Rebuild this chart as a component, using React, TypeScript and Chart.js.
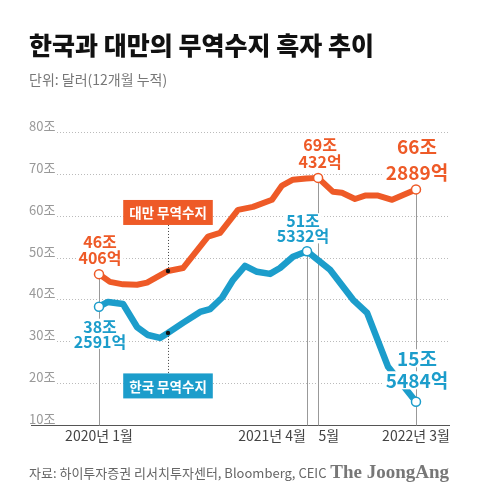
import React, { useEffect, useRef } from "react";
import { Chart, registerables } from "chart.js";

Chart.register(...registerables);

// Months since 2020-01 (as placed on the original graphic) and values in 조 달러
const taiwanMonths = [0, 0.9, 1.97, 3.12, 3.94, 5.66, 6.89, 8.94, 9.93, 11.4, 12.63, 14.19, 15.01, 15.91, 16.98, 17.97, 19.2, 19.93, 21.0, 21.82, 22.89, 24.04, 26];
const taiwanValues = [46.04, 44.2, 43.6, 43.5, 44.0, 46.8, 47.5, 55.0, 55.9, 61.4, 62.1, 63.8, 67.2, 68.6, 68.9, 69.04, 65.7, 65.5, 64.0, 64.8, 64.8, 63.8, 66.29];
const koreaMonths = [0, 0.74, 1.97, 3.12, 4.02, 5.0, 5.66, 6.89, 8.29, 9.11, 10.09, 11.0, 11.98, 12.96, 14.03, 14.85, 15.91, 17.06, 18.95, 20.84, 21.99, 23.71, 26];
const koreaValues = [38.26, 39.4, 38.9, 33.4, 31.5, 30.8, 32.0, 34.4, 37.0, 37.7, 40.4, 44.7, 48.0, 46.6, 46.1, 47.5, 50.2, 51.53, 47.1, 39.9, 36.8, 23.9, 15.55];

const yTicks = [10, 20, 30, 40, 50, 60, 70, 80];
const markerMonth = 5.66;

const taiwanCallouts = [
  { idx: 0, lines: ["46조", "406억"] },
  { idx: 15, lines: ["69조", "432억"] },
  { idx: 22, lines: ["66조", "2889억"] },
];
const koreaCallouts = [
  { idx: 0, lines: ["38조", "2591억"] },
  { idx: 17, lines: ["51조", "5332억"] },
  { idx: 22, lines: ["15조", "5484억"] },
];
const xLabels = [
  { series: "taiwan", idx: 0, text: "2020년 1월", align: "center" },
  { series: "korea", idx: 17, text: "2021년 4월", align: "right" },
  { series: "taiwan", idx: 15, text: "5월", align: "left" },
  { series: "taiwan", idx: 22, text: "2022년 3월", align: "center" },
];

const TITLE = "한국과 대만의 무역수지 흑자 추이";
const SUBTITLE = "단위: 달러(12개월 누적)";
const SOURCE = "자료: 하이투자증권 리서치투자센터, Bloomberg, CEIC";
const BRAND = "The JoongAng";
const TAIWAN_NAME = "대만 무역수지";
const KOREA_NAME = "한국 무역수지";

const ORANGE = "#EE5A27";
const BLUE = "#1C9DCB";
const KR = "'Noto Sans CJK KR', 'Noto Sans', sans-serif";

export default function App() {
  const ref = useRef<HTMLCanvasElement | null>(null);

  useEffect(() => {
    document.body.style.margin = "0";
    const canvas = ref.current!;
    const tIdxMarker = taiwanMonths.indexOf(markerMonth);
    const kIdxMarker = koreaMonths.indexOf(markerMonth);
    const tCircle = taiwanCallouts.map((c) => c.idx);
    const kCircle = koreaCallouts.map((c) => c.idx);

    const text = (ctx: CanvasRenderingContext2D, s: string, x: number, y: number, font: string, color: string, align: CanvasTextAlign = "left", knock = false) => {
      ctx.save();
      ctx.font = font;
      ctx.textAlign = align;
      ctx.textBaseline = "middle";
      if (knock) {
        const w = ctx.measureText(s).width;
        const fs = parseFloat(font.match(/(\d+(\.\d+)?)px/)![1]);
        let lx = x;
        if (align === "center") lx = x - w / 2;
        else if (align === "right") lx = x - w;
        ctx.fillStyle = "#fff";
        ctx.fillRect(lx - 2, y - fs * 0.5, w + 4, fs * 0.95);
      }
      ctx.fillStyle = color;
      ctx.fillText(s, x, y);
      ctx.restore();
    };

    const plugin = {
      id: "infographic",
      beforeDraw(chart: any) {
        const ctx = chart.ctx as CanvasRenderingContext2D;
        ctx.save();
        ctx.fillStyle = "#fff";
        ctx.fillRect(0, 0, chart.width, chart.height);
        ctx.restore();
        text(ctx, TITLE, 29, 45, `900 25px ${KR}`, "#111");
        text(ctx, SUBTITLE, 29, 80, `400 14px ${KR}`, "#777");
        text(ctx, SOURCE, 29, 473, `400 13px ${KR}`, "#666");
        text(ctx, BRAND, 449, 473, `bold 19px 'Liberation Serif', 'DejaVu Serif', serif`, "#777", "right");
      },
      beforeDatasetsDraw(chart: any) {
        const ctx = chart.ctx as CanvasRenderingContext2D;
        const ys = chart.scales.y;
        const area = chart.chartArea;
        yTicks.forEach((v) => {
          const py = Math.round(ys.getPixelForValue(v)) + 0.5;
          ctx.save();
          if (v === yTicks[0]) {
            ctx.strokeStyle = "#555";
            ctx.lineWidth = 1;
            ctx.beginPath();
            ctx.moveTo(area.left, py);
            ctx.lineTo(area.right, py);
            ctx.stroke();
          } else {
            ctx.strokeStyle = "#bbb";
            ctx.lineWidth = 1;
            ctx.setLineDash([1, 2]);
            ctx.beginPath();
            ctx.moveTo(57, py);
            ctx.lineTo(area.right, py);
            ctx.stroke();
          }
          ctx.restore();
          text(ctx, `${v}조`, 29, py - 6, `400 13px ${KR}`, "#999");
        });
        const tMeta = chart.getDatasetMeta(0).data;
        const kMeta = chart.getDatasetMeta(1).data;
        const axisY = Math.round(ys.getPixelForValue(yTicks[0])) + 0.5;
        const guides = [tMeta[tCircle[0]], tMeta[tCircle[1]], tMeta[tCircle[2]], kMeta[kCircle[1]]];
        ctx.save();
        ctx.strokeStyle = "#999";
        ctx.lineWidth = 1;
        guides.forEach((p: any) => {
          const x = Math.round(p.x) + 0.5;
          ctx.beginPath();
          ctx.moveTo(x, p.y);
          ctx.lineTo(x, axisY);
          ctx.stroke();
        });
        ctx.restore();
      },
      afterDatasetsDraw(chart: any) {
        const ctx = chart.ctx as CanvasRenderingContext2D;
        const tMeta = chart.getDatasetMeta(0).data;
        const kMeta = chart.getDatasetMeta(1).data;
        const ys = chart.scales.y;
        const axisY = ys.getPixelForValue(yTicks[0]);

        const tOff = [
          [-32, -16],
          [-33, -16],
          [-43, -17],
        ];
        taiwanCallouts.forEach((c, i) => {
          const p = tMeta[c.idx];
          const big = i === 2;
          const font = big ? `bold 19px ${KR}` : `bold 16px ${KR}`;
          const x = p.x + (i === 1 ? 2 : 1);
          text(ctx, c.lines[0], x, p.y + tOff[i][0], font, ORANGE, "center", true);
          text(ctx, c.lines[1], x, p.y + tOff[i][1], font, ORANGE, "center", true);
        });
        const kOff = [
          [20, 35],
          [-30, -15],
          [-43, -21],
        ];
        koreaCallouts.forEach((c, i) => {
          const p = kMeta[c.idx];
          const big = i === 2;
          const font = big ? `bold 19px ${KR}` : `bold 16px ${KR}`;
          const x = p.x + (i === 1 ? -4 : 1);
          text(ctx, c.lines[0], x, p.y + kOff[i][0], font, BLUE, "center", true);
          text(ctx, c.lines[1], x, p.y + kOff[i][1], font, BLUE, "center", true);
        });

        const boxes = [
          { p: tMeta[tIdxMarker], name: TAIWAN_NAME, color: ORANGE, dy: -58.5 },
          { p: kMeta[kIdxMarker], name: KOREA_NAME, color: BLUE, dy: 53 },
        ];
        boxes.forEach((b) => {
          const cx = b.p.x;
          const cy = b.p.y + b.dy;
          ctx.save();
          ctx.font = `bold 13.5px ${KR}`;
          const w = ctx.measureText(b.name).width + 12;
          const h = 25;
          ctx.strokeStyle = "#444";
          ctx.lineWidth = 1;
          ctx.setLineDash([1, 2]);
          ctx.beginPath();
          const lx = Math.round(cx) + 0.5;
          if (b.dy < 0) {
            ctx.moveTo(lx, cy + h / 2);
            ctx.lineTo(lx, b.p.y);
          } else {
            ctx.moveTo(lx, b.p.y);
            ctx.lineTo(lx, cy - h / 2);
          }
          ctx.stroke();
          ctx.setLineDash([]);
          ctx.fillStyle = b.color;
          ctx.fillRect(cx - w / 2, cy - h / 2, w, h);
          ctx.fillStyle = "#111";
          ctx.beginPath();
          ctx.arc(cx, b.p.y, 2.2, 0, Math.PI * 2);
          ctx.fill();
          ctx.restore();
          text(ctx, b.name, cx, cy + 0.5, `bold 13.5px ${KR}`, "#fff", "center");
        });

        xLabels.forEach((l) => {
          const meta = l.series === "taiwan" ? tMeta : kMeta;
          const p = meta[l.idx];
          let x = p.x;
          if (l.align === "right") x = p.x - 1;
          if (l.align === "left") x = p.x + 0.5;
          text(ctx, l.text, x, axisY + 11, `400 14px ${KR}`, "#444", l.align as CanvasTextAlign);
        });
      },
    };

    const circleRadius = (ids: number[]) => (c: any) => (ids.includes(c.dataIndex) ? 4.5 : 0);

    const chart = new Chart(canvas, {
      type: "line",
      data: {
        datasets: [
          {
            label: TAIWAN_NAME,
            data: taiwanMonths.map((m, i) => ({ x: m, y: taiwanValues[i] })),
            borderColor: ORANGE,
            borderWidth: 6,
            borderJoinStyle: "round",
            borderCapStyle: "round",
            tension: 0,
            pointRadius: circleRadius(tCircle),
            pointBackgroundColor: "#fff",
            pointBorderColor: ORANGE,
            pointBorderWidth: 1.5,
            clip: false as any,
          },
          {
            label: KOREA_NAME,
            data: koreaMonths.map((m, i) => ({ x: m, y: koreaValues[i] })),
            borderColor: BLUE,
            borderWidth: 6.5,
            borderJoinStyle: "round",
            borderCapStyle: "round",
            tension: 0,
            pointRadius: circleRadius(kCircle),
            pointBackgroundColor: "#fff",
            pointBorderColor: BLUE,
            pointBorderWidth: 1.5,
            clip: false as any,
          },
        ],
      },
      options: {
        responsive: false,
        animation: false,
        layout: { padding: { left: 31, right: 30, top: 132, bottom: 73 } },
        scales: {
          x: { type: "linear", min: -5.577, max: 28.789, display: false },
          y: { type: "linear", min: 10, max: 80, display: false },
        },
        plugins: { legend: { display: false }, tooltip: { enabled: false } },
        events: [],
      },
      plugins: [plugin],
    });
    return () => chart.destroy();
  }, []);

  return <canvas ref={ref} width={480} height={498} style={{ display: "block" }} />;
}
